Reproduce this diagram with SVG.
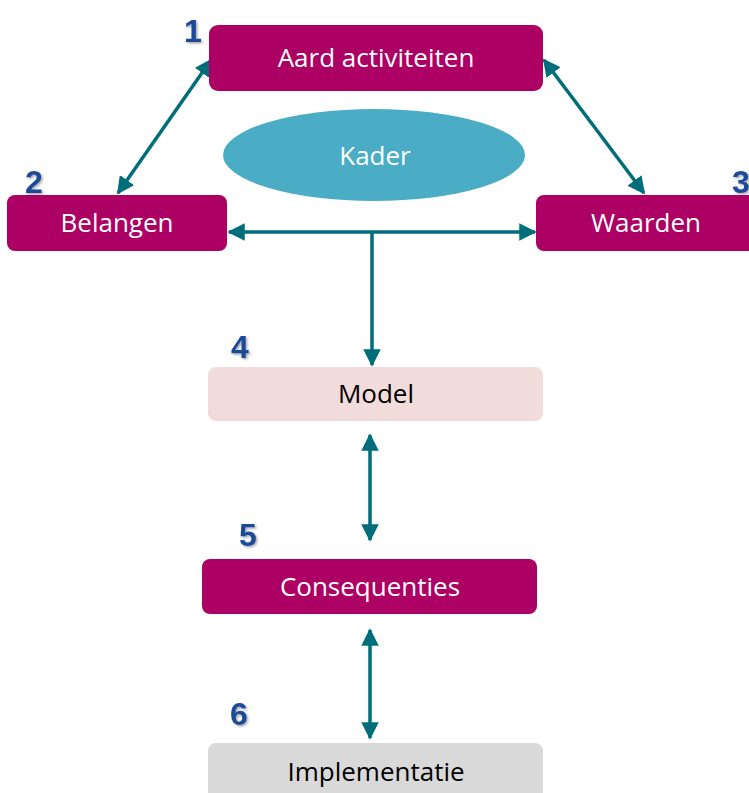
<svg xmlns="http://www.w3.org/2000/svg" width="749" height="793" viewBox="0 0 749 793">
<style>
.box{fill:#AD0064}
.lbl{font-family:"Open Sans","Liberation Sans",sans-serif;font-size:26px;text-anchor:middle}
.w{fill:#FFFFFF}
.k{fill:#000000}
.num{font-family:"Liberation Sans",Arial,sans-serif;font-weight:bold;font-size:32px;fill:#1A4A98;filter:url(#sh)}
.con{stroke:#006D7A;stroke-width:3.5;fill:none;marker-end:url(#ah);marker-start:url(#ah)}
.one{stroke:#006D7A;stroke-width:3.5;fill:none;marker-end:url(#ah)}
</style>
<defs>
<marker id="ah" viewBox="0 0 10 10" refX="9" refY="5" markerWidth="5" markerHeight="5" orient="auto-start-reverse" markerUnits="strokeWidth">
<path d="M0,0 L10,5 L0,10 z" fill="#006D7A"/>
</marker>
<filter id="sh" x="-30%" y="-30%" width="160%" height="160%">
<feDropShadow dx="1.5" dy="1.5" stdDeviation="1" flood-color="#000" flood-opacity="0.35"/>
</filter>
</defs>
<g id="connectors">
<line class="con" x1="211" y1="60" x2="118" y2="193"/>
<line class="con" x1="544" y1="60" x2="644" y2="193"/>
<line class="con" x1="229" y1="232" x2="535" y2="232"/>
<line class="one" x1="372" y1="232" x2="372" y2="365"/>
<line class="con" x1="370" y1="435" x2="370" y2="540"/>
<line class="con" x1="370" y1="630" x2="370" y2="738"/>
</g>
<g id="kader">
<ellipse cx="374" cy="155" rx="151" ry="46" fill="#4BACC6"/>
<text class="lbl w" x="375" y="165">Kader</text>
</g>
<g id="aard">
<rect class="box" x="209" y="25" width="334" height="66" rx="9"/>
<text class="lbl w" x="376" y="67">Aard activiteiten</text>
<text class="num" x="184" y="42">1</text>
</g>
<g id="belangen">
<rect class="box" x="7" y="195" width="220" height="56" rx="8"/>
<text class="lbl w" x="117" y="232">Belangen</text>
<text class="num" x="25" y="193">2</text>
</g>
<g id="waarden">
<rect class="box" x="536" y="195" width="222" height="56" rx="8"/>
<text class="lbl w" x="646" y="232">Waarden</text>
<text class="num" x="732" y="193">3</text>
</g>
<g id="model">
<rect x="208" y="367" width="335" height="54" rx="8" fill="#F2DCDB"/>
<text class="lbl k" x="376" y="403">Model</text>
<text class="num" x="231" y="358">4</text>
</g>
<g id="consequenties">
<rect class="box" x="202" y="559" width="335" height="55" rx="8"/>
<text class="lbl w" x="370" y="596">Consequenties</text>
<text class="num" x="239" y="546">5</text>
</g>
<g id="implementatie">
<rect x="208" y="743" width="335" height="60" rx="8" fill="#D9D9D9"/>
<text class="lbl k" x="376" y="781">Implementatie</text>
<text class="num" x="230" y="725">6</text>
</g>
</svg>
